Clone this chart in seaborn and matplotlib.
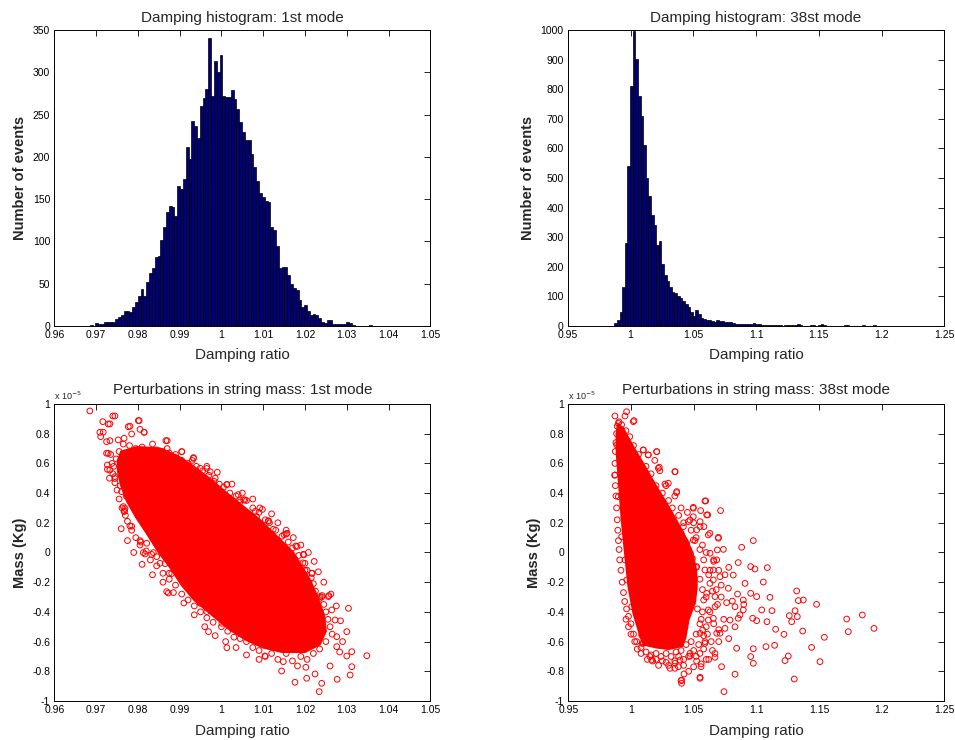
import numpy as np
import pandas as pd
import matplotlib
matplotlib.use("Agg")
import matplotlib.pyplot as plt
from matplotlib.ticker import FuncFormatter, MultipleLocator
import seaborn as sns

# ---------------- histogram data (100 bins each) ----------------
# 1st mode: counts per bin, bins start at MODE1_START with width MODE1_WIDTH
MODE1_START = 0.9685
MODE1_WIDTH = 0.000675
mode1_counts = [
    1, 0, 3, 2, 2, 5, 5, 5, 5, 8,
    11, 13, 18, 18, 17, 22, 28, 35, 44, 35,
    52, 63, 68, 81, 83, 102, 117, 135, 142, 141,
    130, 166, 162, 174, 212, 197, 242, 237, 222, 260,
    270, 280, 340, 272, 313, 300, 320, 272, 271, 271,
    279, 268, 257, 241, 229, 220, 220, 203, 188, 172,
    157, 152, 148, 146, 117, 113, 94, 68, 70, 70,
    60, 50, 45, 42, 31, 23, 25, 18, 13, 14,
    13, 9, 5, 4, 7, 7, 2, 2, 2, 2,
    2, 5, 3, 1, 0, 0, 0, 0, 0, 1,
]

# 38st mode
MODE38_START = 0.9872
MODE38_WIDTH = 0.00208
mode38_counts = [
    10, 20, 48, 130, 280, 540, 810, 998, 902, 777,
    710, 610, 500, 440, 375, 340, 272, 286, 208, 172,
    152, 132, 115, 110, 100, 95, 84, 74, 63, 46,
    35, 55, 42, 28, 22, 20, 19, 16, 15, 19,
    16, 17, 12, 12, 14, 9, 8, 6, 5, 7,
    8, 5, 5, 9, 6, 5, 4, 4, 3, 3,
    2, 3, 2, 2, 1, 2, 3, 4, 2, 3,
    5, 2, 1, 0, 1, 2, 3, 1, 2, 8,
    3, 1, 0, 1, 0, 0, 1, 0, 2, 3,
    0, 1, 0, 0, 1, 2, 0, 1, 0, 2,
]

# ---------------- scatter data (mass in units of 1e-5 Kg) ----------------
MASS_UNIT = 1e-5

# 1st mode: saturated core outline (damping, mass)
core1_damp = [0.9760, 0.9800, 0.9853, 0.9895, 0.9933, 0.9975, 1.0013, 1.0052, 1.0092, 1.0132,
              1.0172, 1.0212, 1.0230, 1.0245, 1.0250, 1.0235, 1.0200, 1.0145, 1.0100, 1.0060,
              1.0020, 0.9990, 0.9960, 0.9935, 0.9905, 0.9877, 0.9850, 0.9821, 0.9795, 0.9773,
              0.9760, 0.9752, 0.9752]
core1_mass = [0.68, 0.71, 0.70, 0.65, 0.58, 0.49, 0.40, 0.31, 0.22, 0.11,
              0.00, -0.185, -0.30, -0.42, -0.53, -0.62, -0.67, -0.67, -0.64, -0.59,
              -0.52, -0.45, -0.38, -0.32, -0.22, -0.10, 0.00, 0.13, 0.24, 0.35,
              0.45, 0.55, 0.62]

# 1st mode: individual samples
pts1_damp = [
    0.9685, 0.9716, 0.9709, 0.9711, 0.9729, 0.9740, 0.9745, 0.9777, 0.9801, 0.9805,
    0.9815, 0.9785, 0.9725, 0.9733, 0.9753, 0.9767, 0.9867, 0.9725, 0.9727, 0.9727,
    0.9745, 0.9761, 0.9765, 0.9767, 0.9781, 0.9805, 0.9813, 0.9837, 0.9869, 0.9905,
    0.9933, 0.9949, 0.9973, 1.0013, 1.0044, 1.0056, 1.0084, 1.0112, 1.0124, 1.0155,
    1.0178, 1.0196, 1.0200, 1.0216, 1.0236, 1.0256, 1.0264, 1.0304, 1.0272, 1.0300,
    1.0276, 1.0276, 1.0300, 1.0312, 1.0348, 1.0312, 1.0308, 1.0277, 1.0260, 1.0240,
    1.0234, 1.0224, 1.0204, 1.0176, 1.0182, 1.0202, 1.0144, 1.0148, 1.0104, 1.0013,
    0.9969, 1.0001, 0.9965, 0.9949, 0.9917, 0.9875, 0.9853, 0.9845, 0.9821,
    # fringe of the dense cloud
    0.9765, 0.9780, 0.9795, 0.9810, 0.9835, 0.9845, 0.9860, 0.9875, 0.9890, 0.9885,
    0.9905, 0.9920, 0.9940, 0.9955, 0.9970, 0.9985, 0.9995, 1.0005, 1.0020, 1.0035,
    1.0045, 1.0060, 1.0075, 1.0090, 1.0105, 1.0115, 1.0130, 1.0145, 1.0160, 1.0170,
    1.0185, 1.0195, 1.0205, 1.0215, 1.0220, 1.0225, 1.0235, 1.0245, 1.0250, 1.0255,
    1.0260, 1.0265, 1.0250, 1.0235, 1.0220, 1.0205, 1.0190, 1.0170, 1.0155, 1.0135,
    1.0120, 1.0105, 1.0090, 1.0075, 1.0060, 1.0045, 1.0030, 1.0015, 1.0000, 0.9980,
    0.9965, 0.9950, 0.9935, 0.9920, 0.9905, 0.9890, 0.9875, 0.9860, 0.9845, 0.9830,
    0.9820, 0.9805, 0.9795, 0.9785, 0.9775, 0.9770, 0.9762, 0.9755, 0.9750, 0.9745,
    0.9740, 0.9742, 0.9748, 0.9755,
    # outer fringe
    0.9735, 0.9738, 0.9732, 0.9758, 0.9772, 0.9768, 0.9965, 0.9990, 1.0025, 1.0050,
    1.0075, 1.0092, 1.0120, 1.0135, 1.0155, 1.0172, 1.0190, 1.0208, 1.0222, 1.0232,
    1.0245, 1.0262, 1.0275, 1.0285, 1.0290, 1.0283, 0.9835, 0.9860, 0.9885, 0.9910,
    0.9935, 0.9960, 0.9985, 1.0010, 1.0035, 1.0060, 1.0090, 0.9810, 0.9790, 0.9775,
    0.9760, 0.9820, 0.9870, 0.9930, 0.9982, 1.0040, 1.0098, 1.0150, 1.0200, 1.0240,
    0.9933, 0.9965, 1.0013, 1.0053, 1.0081, 1.0113, 1.0157, 1.0181, 1.0197, 1.0217,
    1.0241, 1.0257, 0.9905, 0.9870, 0.9803, 0.9815, 0.9781, 0.9733, 0.9717, 0.9729,
    0.9733, 0.9745, 0.9769, 0.9785, 0.9807, 0.9817, 0.9833, 0.9873, 0.9865, 0.9881,
]
pts1_mass = [
    0.953, 0.881, 0.809, 0.780, 0.865, 0.919, 0.919, 0.847, 0.888, 0.829,
    0.809, 0.798, 0.746, 0.753, 0.758, 0.769, 0.753, 0.668, 0.589, 0.560,
    0.511, 0.410, 0.309, 0.275, 0.178, 0.080, -0.001, -0.001, -0.264, 0.679,
    0.639, 0.567, 0.544, 0.459, 0.354, 0.354, 0.241, 0.214, 0.156, 0.124,
    0.044, -0.012, -0.073, -0.140, -0.297, -0.297, -0.387, -0.376, -0.455, -0.533,
    -0.567, -0.634, -0.697, -0.668, -0.695, -0.769, -0.825, -0.854, -0.764, -0.881,
    -0.937, -0.818, -0.847, -0.874, -0.764, -0.773, -0.798, -0.735, -0.697, -0.641,
    -0.533, -0.477, -0.398, -0.342, -0.219, -0.140, -0.073, -0.028, 0.062,
    0.73, 0.72, 0.70, 0.71, 0.73, 0.69, 0.68, 0.67, 0.66, 0.62,
    0.62, 0.60, 0.58, 0.55, 0.52, 0.50, 0.46, 0.44, 0.40, 0.38,
    0.34, 0.35, 0.30, 0.27, 0.22, 0.20, 0.15, 0.11, 0.07, 0.03,
    -0.02, -0.07, -0.12, -0.17, -0.21, -0.26, -0.31, -0.35, -0.40, -0.45,
    -0.50, -0.55, -0.60, -0.65, -0.68, -0.72, -0.70, -0.73, -0.68, -0.72,
    -0.68, -0.70, -0.66, -0.64, -0.60, -0.58, -0.57, -0.53, -0.50, -0.47,
    -0.44, -0.40, -0.36, -0.32, -0.28, -0.22, -0.18, -0.14, -0.09, -0.05,
    0.01, 0.05, 0.10, 0.15, 0.21, 0.25, 0.30, 0.36, 0.42, 0.47,
    0.53, 0.58, 0.63, 0.68,
    0.66, 0.60, 0.50, 0.45, 0.38, 0.28, 0.58, 0.54, 0.46, 0.40,
    0.36, 0.30, 0.26, 0.20, 0.15, 0.10, 0.05, 0.00, -0.06, -0.13,
    -0.20, -0.28, -0.36, -0.46, -0.60, -0.67, -0.15, -0.20, -0.27, -0.34,
    -0.42, -0.50, -0.56, -0.60, -0.64, -0.69, -0.72, -0.08, 0.00, 0.08,
    0.16, 0.66, 0.70, 0.62, 0.48, 0.39, 0.29, 0.12, -0.12, -0.30,
    0.634, 0.566, 0.456, 0.355, 0.277, 0.210, 0.130, 0.040, -0.016, -0.140,
    -0.290, -0.290, 0.679, 0.753, 0.888, 0.810, 0.850, 0.866, 0.810, 0.668,
    0.555, 0.498, 0.296, 0.177, 0.070, -0.010, -0.013, -0.273, -0.075, -0.142,
]

# 38st mode: saturated core outline
core38_damp = [0.9895, 0.9935, 1.0019, 1.0110, 1.0205, 1.0285, 1.0360, 1.0430, 1.0490, 1.0520,
               1.0525, 1.0510, 1.0460, 1.0435, 1.0410, 1.0300, 1.0205, 1.0098, 1.0070, 1.0020,
               0.9980, 0.9952, 0.9926, 0.9907, 0.9886, 0.9885]
core38_mass = [0.86, 0.84, 0.71, 0.58, 0.44, 0.33, 0.22, 0.11, 0.00, -0.12,
               -0.23, -0.34, -0.45, -0.57, -0.63, -0.65, -0.64, -0.62, -0.55, -0.41,
               -0.23, 0.00, 0.22, 0.44, 0.67, 0.80]

pts38_damp = [
    0.9872, 0.9965, 0.9952, 1.0024, 0.9899, 1.0098, 1.0205, 1.0138, 1.0226, 1.0351,
    1.0298, 1.0364, 1.0271, 1.0497, 1.0556, 1.0596, 1.0612, 1.0715, 1.0697, 1.0630,
    1.0524, 1.0497, 1.0883, 1.0737, 1.0689, 1.0976, 1.0955, 1.0989, 1.1088, 1.0856,
    1.1056, 1.0910, 1.0816, 1.1322, 1.1109, 1.1335, 1.1375, 1.1481, 1.1309, 1.1263,
    1.1327, 1.1282, 1.1125, 1.1085, 1.1003, 1.0971, 1.1043, 1.1721, 1.1846, 1.1734,
    1.1939, 1.1370, 1.1154, 1.1221, 1.1543, 1.1441, 1.1508, 1.1229, 1.1255, 1.1303,
    1.1146, 1.1077, 1.0976, 1.0976, 1.0955, 1.0843, 1.0830, 1.0742, 1.0723, 1.0670,
    1.0551, 1.0559, 1.0524, 1.0399, 1.0404, 1.0423, 1.0378, 1.0351, 1.0173, 1.0085,
    1.0090, 1.0471, 1.0710, 1.0750, 1.0790, 1.0856, 1.0809, 1.0896, 1.0955, 1.0777,
    1.0657, 1.0710, 1.0630, 1.0670, 1.0617, 1.0657, 1.0572, 1.0590, 1.1003, 1.0896,
    1.0830, 1.0763, 1.0444, 1.0391, 1.0418, 1.0457, 1.0551, 1.0582,
    1.0450, 1.0480, 1.0530, 1.0560, 1.0600, 1.0580, 1.0540, 1.0500, 1.0460, 1.0420,
    1.0380, 1.0630, 1.0660, 1.0600, 1.0570, 1.0520, 1.0650, 1.0690, 1.0720, 1.0750,
    1.0780, 1.0740, 1.0700, 1.0650, 1.0780, 1.0830, 1.0870, 1.0900, 1.0850, 1.0620,
    1.0560, 1.0500, 1.0460, 1.0350, 1.0300, 1.0250, 1.0200, 1.0150,
    # fringe of the dense cloud
    0.9885, 0.9880, 0.9875, 0.9872, 0.9870, 0.9875, 0.9880, 0.9885, 0.9890, 0.9895,
    0.9900, 0.9905, 0.9910, 0.9920, 0.9930, 0.9940, 0.9950, 0.9965, 0.9980, 1.0000,
    1.0020, 1.0045, 1.0080, 1.0120, 1.0160, 1.0200, 1.0240, 1.0280, 1.0320, 1.0360,
    1.0400, 1.0440, 1.0480, 1.0520, 1.0550, 1.0570, 1.0580, 1.0570, 1.0550, 1.0520,
    1.0490, 1.0460, 1.0430, 1.0400, 1.0360, 1.0320, 1.0280, 1.0240, 1.0200, 1.0170,
    1.0130, 1.0100, 1.0070, 1.0040, 1.0010, 0.9980, 0.9950, 0.9920,
    # outer fringe
    1.0200, 1.0250, 1.0300, 1.0330, 1.0380, 1.0420, 1.0480, 1.0510, 1.0550, 1.0580,
    1.0620, 1.0600, 1.0630, 1.0610, 1.0580, 1.0520, 1.0420, 1.0350, 1.0280, 1.0220,
    1.0130, 1.0080, 1.0050, 1.0030, 1.0000, 0.9980, 0.9960, 1.0120, 1.0160, 1.0190,
    1.0230, 1.0060, 1.0020, 0.9990, 0.9960, 0.9925, 0.9905, 0.9890, 1.0400, 1.0450,
    1.0500, 1.0350, 1.0280, 1.0660, 1.0700, 1.0680, 1.0720, 1.0660, 1.0700, 1.0640,
    1.0670, 1.0600, 1.0550,
    1.0019, 1.0205, 1.0098, 1.0138, 1.0351, 1.0218, 1.0365, 1.0590, 1.0497, 1.0604,
    1.0471, 1.0551, 1.0617, 1.0697, 1.0631, 1.0684, 1.0590, 1.0657, 1.0604, 1.0671,
    1.0617, 1.0551, 1.0590, 1.0684, 1.0471, 1.0391, 1.0311, 1.0405, 1.0551, 1.0165,
    1.0098, 1.0006, 0.9966, 0.9952, 0.9926, 0.9899, 0.9873, 0.9886, 0.9913, 1.0471,
    1.0524, 1.0497,
]
pts38_mass = [
    0.919, 0.948, 0.919, 0.888, 0.870, 0.690, 0.679, 0.657, 0.574, 0.544,
    0.466, 0.403, 0.461, 0.304, 0.282, 0.347, 0.253, 0.282, 0.102, 0.129,
    0.152, 0.241, 0.035, 0.021, 0.017, 0.080, -0.095, -0.111, -0.102, -0.068,
    -0.199, -0.208, -0.152, -0.259, -0.302, -0.324, -0.320, -0.349, -0.392, -0.425,
    -0.432, -0.466, -0.392, -0.466, -0.459, -0.443, -0.387, -0.448, -0.421, -0.533,
    -0.511, -0.529, -0.517, -0.551, -0.571, -0.639, -0.735, -0.728, -0.697, -0.852,
    -0.625, -0.634, -0.648, -0.746, -0.701, -0.645, -0.820, -0.937, -0.769, -0.706,
    -0.840, -0.769, -0.731, -0.863, -0.881, -0.818, -0.769, -0.746, -0.731, -0.556,
    -0.612, -0.697, -0.544, -0.511, -0.455, -0.443, -0.327, -0.320, -0.275, -0.241,
    -0.118, -0.163, -0.208, -0.297, -0.387, -0.443, -0.522, -0.612, -0.297, -0.387,
    -0.365, -0.338, 0.062, 0.107, 0.174, 0.208, 0.208, 0.174,
    -0.25, -0.33, -0.38, -0.45, -0.50, -0.56, -0.62, -0.66, -0.70, -0.72,
    -0.70, -0.12, -0.06, 0.00, 0.05, 0.10, -0.26, -0.35, -0.22, -0.15,
    -0.10, -0.45, -0.60, -0.66, -0.58, -0.50, -0.42, -0.35, -0.28, -0.72,
    -0.75, -0.77, -0.80, -0.73, -0.76, -0.73, -0.72, -0.70,
    0.80, 0.74, 0.68, 0.60, 0.52, 0.45, 0.38, 0.30, 0.22, 0.15,
    0.08, 0.02, -0.05, -0.12, -0.20, -0.27, -0.33, -0.38, -0.43, -0.48,
    -0.55, -0.60, -0.64, -0.67, -0.69, -0.68, -0.70, -0.68, -0.70, -0.67,
    -0.66, -0.62, -0.60, -0.55, -0.48, -0.40, -0.32, -0.25, -0.18, -0.10,
    -0.04, 0.02, 0.08, 0.13, 0.18, 0.23, 0.28, 0.33, 0.38, 0.43,
    0.48, 0.53, 0.58, 0.63, 0.68, 0.73, 0.77, 0.82,
    0.45, 0.40, 0.35, 0.30, 0.25, 0.20, 0.15, 0.08, 0.02, -0.05,
    -0.15, -0.30, -0.40, -0.55, -0.65, -0.70, -0.76, -0.78, -0.74, -0.76,
    -0.72, -0.68, -0.65, -0.60, -0.55, -0.50, -0.45, 0.58, 0.53, 0.62,
    0.55, 0.66, 0.72, 0.78, 0.82, 0.86, 0.88, 0.85, 0.30, 0.27,
    0.20, 0.38, 0.45, -0.05, -0.12, -0.25, -0.30, -0.48, -0.52, -0.60,
    -0.68, -0.72, -0.68,
    0.881, 0.679, 0.690, 0.657, 0.544, 0.567, 0.410, 0.347, 0.298, 0.253,
    0.219, 0.174, 0.118, 0.096, -0.005, -0.050, -0.118, -0.185, -0.275, -0.365,
    -0.455, -0.544, -0.600, -0.544, -0.679, -0.724, -0.780, -0.859, -0.847, -0.724,
    -0.612, -0.365, -0.185, -0.050, 0.106, 0.376, 0.522, 0.724, 0.825, -0.005,
    -0.095, 0.084,
]

# ---------------- style ----------------
sns.set_style("white")
plt.rcParams["font.family"] = ["Liberation Sans", "DejaVu Sans"]
plt.rcParams["axes.unicode_minus"] = False

BAR_FACE = "#00007f"
RED = "#ff0000"

fig = plt.figure(figsize=(9.55, 7.40), dpi=100)
ax_h1 = fig.add_axes([0.0569, 0.5595, 0.3937, 0.4000])
ax_h38 = fig.add_axes([0.5945, 0.5595, 0.3943, 0.4000])
ax_s1 = fig.add_axes([0.0569, 0.0527, 0.3937, 0.4014])
ax_s38 = fig.add_axes([0.5951, 0.0527, 0.3937, 0.4014])


def _fmt_number(v):
    v = round(v, 6) + 0.0
    return f"{v:g}"


fmt_g = FuncFormatter(lambda v, p: _fmt_number(v))
fmt_mass = FuncFormatter(lambda v, p: _fmt_number(v / MASS_UNIT))


def style_axes(ax):
    for sp in ax.spines.values():
        sp.set_visible(True)
        sp.set_color("black")
        sp.set_linewidth(0.7)
    ax.tick_params(direction="in", length=4, width=0.6, top=True, right=True,
                   labelsize=7.5, colors="black", pad=3)
    ax.xaxis.set_major_formatter(fmt_g)


def draw_hist(ax, counts, start, width, xlim, xstep, ylim, ystep, title):
    n = len(counts)
    centers = start + width * (np.arange(n) + 0.5)
    df = pd.DataFrame({"damping": centers, "events": np.asarray(counts, dtype=float)})
    sns.histplot(data=df, x="damping", weights="events", bins=n,
                 binrange=(start, start + width * n), ax=ax, color=BAR_FACE,
                 edgecolor="black", linewidth=0.5, alpha=1.0)
    ax.set_xlim(*xlim)
    ax.set_ylim(*ylim)
    ax.xaxis.set_major_locator(MultipleLocator(xstep))
    ax.yaxis.set_major_locator(MultipleLocator(ystep))
    style_axes(ax)
    ax.yaxis.set_major_formatter(fmt_g)
    ax.set_title(title, fontsize=11, pad=6)
    ax.set_xlabel("Damping ratio", fontsize=11, labelpad=6)
    ax.set_ylabel("Number of events", fontsize=10.5, fontweight="bold", labelpad=4)


def draw_scatter(ax, cx, cy, px, py, xlim, xstep, title):
    cy = np.asarray(cy) * MASS_UNIT
    py = np.asarray(py) * MASS_UNIT
    ax.fill(cx, cy, color=RED, linewidth=1.5, edgecolor=RED, zorder=2)
    sns.scatterplot(x=px, y=py, ax=ax, marker="o", s=17, facecolors="none",
                    edgecolors=RED, linewidths=0.7, zorder=3)
    ax.set_xlim(*xlim)
    ax.set_ylim(-1 * MASS_UNIT, 1 * MASS_UNIT)
    ax.xaxis.set_major_locator(MultipleLocator(xstep))
    ax.yaxis.set_major_locator(MultipleLocator(0.2 * MASS_UNIT))
    style_axes(ax)
    ax.yaxis.set_major_formatter(fmt_mass)
    ax.set_title(title, fontsize=11, pad=7)
    ax.set_xlabel("Damping ratio", fontsize=11, labelpad=6)
    ax.set_ylabel("Mass (Kg)", fontsize=10.5, fontweight="bold", labelpad=4)
    ax.text(0.0, 1.008, r"x 10$^{-5}$", transform=ax.transAxes, fontsize=6.5,
            ha="left", va="bottom")


draw_hist(ax_h1, mode1_counts, MODE1_START, MODE1_WIDTH, (0.96, 1.05), 0.01,
          (0, 350), 50, "Damping histogram: 1st mode")
draw_hist(ax_h38, mode38_counts, MODE38_START, MODE38_WIDTH, (0.95, 1.25), 0.05,
          (0, 1000), 100, "Damping histogram: 38st mode")
draw_scatter(ax_s1, core1_damp, core1_mass, pts1_damp, pts1_mass, (0.96, 1.05), 0.01,
             "Perturbations in string mass: 1st mode")
draw_scatter(ax_s38, core38_damp, core38_mass, pts38_damp, pts38_mass, (0.95, 1.25), 0.05,
             "Perturbations in string mass: 38st mode")

fig.savefig("out.png", dpi=100, facecolor="white")
